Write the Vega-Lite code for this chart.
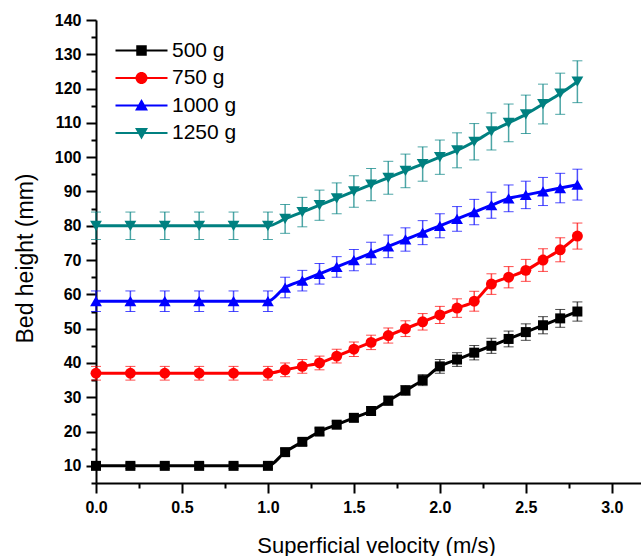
{
  "$schema": "https://vega.github.io/schema/vega-lite/v6.json",
  "width": 545,
  "height": 463,
  "autosize": {"type": "none"},
  "padding": {"left": 96, "top": 20, "right": 0, "bottom": 73},
  "background": "white",
  "config": {"view": {"stroke": null}, "font": "Liberation Sans"},
  "data": {"values": [
    {"s":"500 g","v":0,"h":10,"e":0.8},{"s":"500 g","v":0.2,"h":10,"e":0.8},{"s":"500 g","v":0.4,"h":10,"e":0.8},{"s":"500 g","v":0.6,"h":10,"e":0.8},{"s":"500 g","v":0.8,"h":10,"e":0.8},{"s":"500 g","v":1.0,"h":10,"e":0.8},
    {"s":"500 g","v":1.1,"h":14,"e":1},{"s":"500 g","v":1.2,"h":17,"e":1},{"s":"500 g","v":1.3,"h":20,"e":1},{"s":"500 g","v":1.4,"h":22,"e":1},{"s":"500 g","v":1.5,"h":24,"e":1.1},{"s":"500 g","v":1.6,"h":26,"e":1.2},{"s":"500 g","v":1.7,"h":29,"e":1.3},{"s":"500 g","v":1.8,"h":32,"e":1.4},{"s":"500 g","v":1.9,"h":35,"e":1.6},{"s":"500 g","v":2.0,"h":39,"e":2},{"s":"500 g","v":2.1,"h":41,"e":2},{"s":"500 g","v":2.2,"h":43,"e":2.1},{"s":"500 g","v":2.3,"h":45,"e":2.2},{"s":"500 g","v":2.4,"h":47,"e":2.3},{"s":"500 g","v":2.5,"h":49,"e":2.4},{"s":"500 g","v":2.6,"h":51,"e":2.5},{"s":"500 g","v":2.7,"h":53,"e":2.6},{"s":"500 g","v":2.8,"h":55,"e":2.8},
    {"s":"750 g","v":0,"h":37,"e":2},{"s":"750 g","v":0.2,"h":37,"e":2},{"s":"750 g","v":0.4,"h":37,"e":2},{"s":"750 g","v":0.6,"h":37,"e":2},{"s":"750 g","v":0.8,"h":37,"e":2},{"s":"750 g","v":1.0,"h":37,"e":2},
    {"s":"750 g","v":1.1,"h":38,"e":2},{"s":"750 g","v":1.2,"h":39,"e":2},{"s":"750 g","v":1.3,"h":40,"e":2},{"s":"750 g","v":1.4,"h":42,"e":2},{"s":"750 g","v":1.5,"h":44,"e":2.1},{"s":"750 g","v":1.6,"h":46,"e":2.1},{"s":"750 g","v":1.7,"h":48,"e":2.2},{"s":"750 g","v":1.8,"h":50,"e":2.3},{"s":"750 g","v":1.9,"h":52,"e":2.4},{"s":"750 g","v":2.0,"h":54,"e":2.5},{"s":"750 g","v":2.1,"h":56,"e":2.7},{"s":"750 g","v":2.2,"h":58,"e":2.9},{"s":"750 g","v":2.3,"h":63,"e":3},{"s":"750 g","v":2.4,"h":65,"e":3.1},{"s":"750 g","v":2.5,"h":67,"e":3.2},{"s":"750 g","v":2.6,"h":70,"e":3.3},{"s":"750 g","v":2.7,"h":73,"e":3.5},{"s":"750 g","v":2.8,"h":77,"e":3.8},
    {"s":"1000 g","v":0,"h":58,"e":3},{"s":"1000 g","v":0.2,"h":58,"e":3},{"s":"1000 g","v":0.4,"h":58,"e":3},{"s":"1000 g","v":0.6,"h":58,"e":3},{"s":"1000 g","v":0.8,"h":58,"e":3},{"s":"1000 g","v":1.0,"h":58,"e":3},
    {"s":"1000 g","v":1.1,"h":62,"e":3},{"s":"1000 g","v":1.2,"h":64,"e":3},{"s":"1000 g","v":1.3,"h":66,"e":3},{"s":"1000 g","v":1.4,"h":68,"e":3},{"s":"1000 g","v":1.5,"h":70,"e":3.1},{"s":"1000 g","v":1.6,"h":72,"e":3.2},{"s":"1000 g","v":1.7,"h":74,"e":3.3},{"s":"1000 g","v":1.8,"h":76,"e":3.4},{"s":"1000 g","v":1.9,"h":78,"e":3.5},{"s":"1000 g","v":2.0,"h":80,"e":3.5},{"s":"1000 g","v":2.1,"h":82,"e":3.6},{"s":"1000 g","v":2.2,"h":84,"e":3.7},{"s":"1000 g","v":2.3,"h":86,"e":3.8},{"s":"1000 g","v":2.4,"h":88,"e":3.9},{"s":"1000 g","v":2.5,"h":89,"e":4},{"s":"1000 g","v":2.6,"h":90,"e":4.1},{"s":"1000 g","v":2.7,"h":91,"e":4.3},{"s":"1000 g","v":2.8,"h":92,"e":4.5},
    {"s":"1250 g","v":0,"h":80,"e":4},{"s":"1250 g","v":0.2,"h":80,"e":4},{"s":"1250 g","v":0.4,"h":80,"e":4},{"s":"1250 g","v":0.6,"h":80,"e":4},{"s":"1250 g","v":0.8,"h":80,"e":4},{"s":"1250 g","v":1.0,"h":80,"e":4},
    {"s":"1250 g","v":1.1,"h":82,"e":4.2},{"s":"1250 g","v":1.2,"h":84,"e":4.3},{"s":"1250 g","v":1.3,"h":86,"e":4.4},{"s":"1250 g","v":1.4,"h":88,"e":4.5},{"s":"1250 g","v":1.5,"h":90,"e":4.6},{"s":"1250 g","v":1.6,"h":92,"e":4.7},{"s":"1250 g","v":1.7,"h":94,"e":4.8},{"s":"1250 g","v":1.8,"h":96,"e":4.9},{"s":"1250 g","v":1.9,"h":98,"e":5},{"s":"1250 g","v":2.0,"h":100,"e":5},{"s":"1250 g","v":2.1,"h":102,"e":5.1},{"s":"1250 g","v":2.2,"h":104.5,"e":5.3},{"s":"1250 g","v":2.3,"h":107.5,"e":5.4},{"s":"1250 g","v":2.4,"h":110,"e":5.5},{"s":"1250 g","v":2.5,"h":112.5,"e":5.6},{"s":"1250 g","v":2.6,"h":115.5,"e":5.8},{"s":"1250 g","v":2.7,"h":118.5,"e":6},{"s":"1250 g","v":2.8,"h":122,"e":6.1}
  ]},
  "encoding": {
    "x": {"field": "v", "type": "quantitative", "scale": {"domain": [0, 3.17], "nice": false},
      "axis": {"values": [0, 0.25, 0.5, 0.75, 1, 1.25, 1.5, 1.75, 2, 2.25, 2.5, 2.75, 3], "labelExpr": "(round(datum.value * 100) % 50 === 0) ? format(datum.value, '.1f') : ''",
        "tickSize": {"condition": {"test": "round(datum.value * 100) % 50 === 0", "value": 10}, "value": 5},
        "grid": false, "domainColor": "black", "domainWidth": 2, "tickColor": "black", "tickWidth": 2, "labelPadding": 6, "labelFont": "Liberation Sans", "labelFontWeight": 700, "labelFontSize": 16, "labelColor": "black", "labelFlush": false, "labelOverlap": false,
        "title": "Superficial velocity (m/s)", "titleFont": "Liberation Sans", "titleFontWeight": "normal", "titleFontSize": 22, "titleColor": "black", "titleX": 280, "titleY": 62, "titleBaseline": "middle", "titleAlign": "center"}},
    "y": {"field": "h", "type": "quantitative", "scale": {"domain": [5, 140], "nice": false, "zero": false},
      "axis": {"values": [5, 10, 15, 20, 25, 30, 35, 40, 45, 50, 55, 60, 65, 70, 75, 80, 85, 90, 95, 100, 105, 110, 115, 120, 125, 130, 135, 140], "labelExpr": "datum.value % 10 === 0 ? datum.label : ''",
        "tickSize": {"condition": {"test": "datum.value % 10 === 0", "value": 10}, "value": 5},
        "grid": false, "domainColor": "black", "domainWidth": 2, "tickColor": "black", "tickWidth": 2, "labelPadding": 5, "labelFont": "Liberation Sans", "labelFontWeight": 700, "labelFontSize": 16, "labelColor": "black", "labelFlush": false, "labelOverlap": false,
        "title": "Bed height (mm)", "titleFont": "Liberation Sans", "titleFontWeight": "normal", "titleFontSize": 23, "titleColor": "black", "titleX": -71, "titleY": 238, "titleAngle": -90, "titleBaseline": "middle", "titleAlign": "center"}},
    "color": {"field": "s", "type": "nominal",
      "scale": {"domain": ["500 g", "750 g", "1000 g", "1250 g"], "range": ["#000000", "#ff0000", "#0000ff", "#008080"]},
      "legend": {
        "orient": "none", "legendX": 35, "legendY": 20, "padding": 0, "title": null,
        "rowPadding": 5.5, "labelFont": "Liberation Sans", "labelFontSize": 21, "labelColor": "black", "labelOffset": 20, "symbolSize": 100,
        "encode": {"symbols": {"update": {
          "fill": {"scale": "color", "field": "value"},
          "stroke": {"value": "transparent"},
          "strokeWidth": {"value": 0},
          "opacity": {"value": 1},
          "size": {"value": 100},
          "shape": {"signal": "datum.value === '500 g' ? 'M-5.2,-0.22H5.2V0.22H-5.2Z M-1.05,-1.05H1.05V1.05H-1.05Z' : datum.value === '750 g' ? 'M-5.2,-0.22H5.2V0.22H-5.2Z M1.2,0A1.2,1.2,0,1,1,-1.2,0A1.2,1.2,0,1,1,1.2,0Z' : datum.value === '1000 g' ? 'M-5.2,-0.22H5.2V0.22H-5.2Z M0,-1.3L1.3,1H-1.3Z' : 'M-5.2,-0.22H5.2V0.22H-5.2Z M0,1.3L-1.3,-1H1.3Z'"}
        }}}
      }}
  },
  "layer": [
    {
      "mark": {"type": "errorbar", "ticks": {"size": 10, "opacity": 0.7, "strokeWidth": 1.5}, "rule": {"opacity": 0.7, "strokeWidth": 1.5}},
      "encoding": {
        "yError": {"field": "e"},
        "detail": {"field": "s"}
      }
    },
    {
      "mark": {"type": "line", "interpolate": "monotone", "strokeWidth": 3},
      "encoding": {
        "detail": {"field": "s"}
      }
    },
    {
      "mark": {"type": "point", "filled": true, "opacity": 1,
        "shape": {"expr": "datum.s === '500 g' ? 'square' : datum.s === '750 g' ? 'circle' : datum.s === '1000 g' ? 'triangle-up' : 'triangle-down'"},
        "size": {"expr": "datum.s === '500 g' ? 100 : datum.s === '750 g' ? 120 : 140"}}
    }
  ]
}
